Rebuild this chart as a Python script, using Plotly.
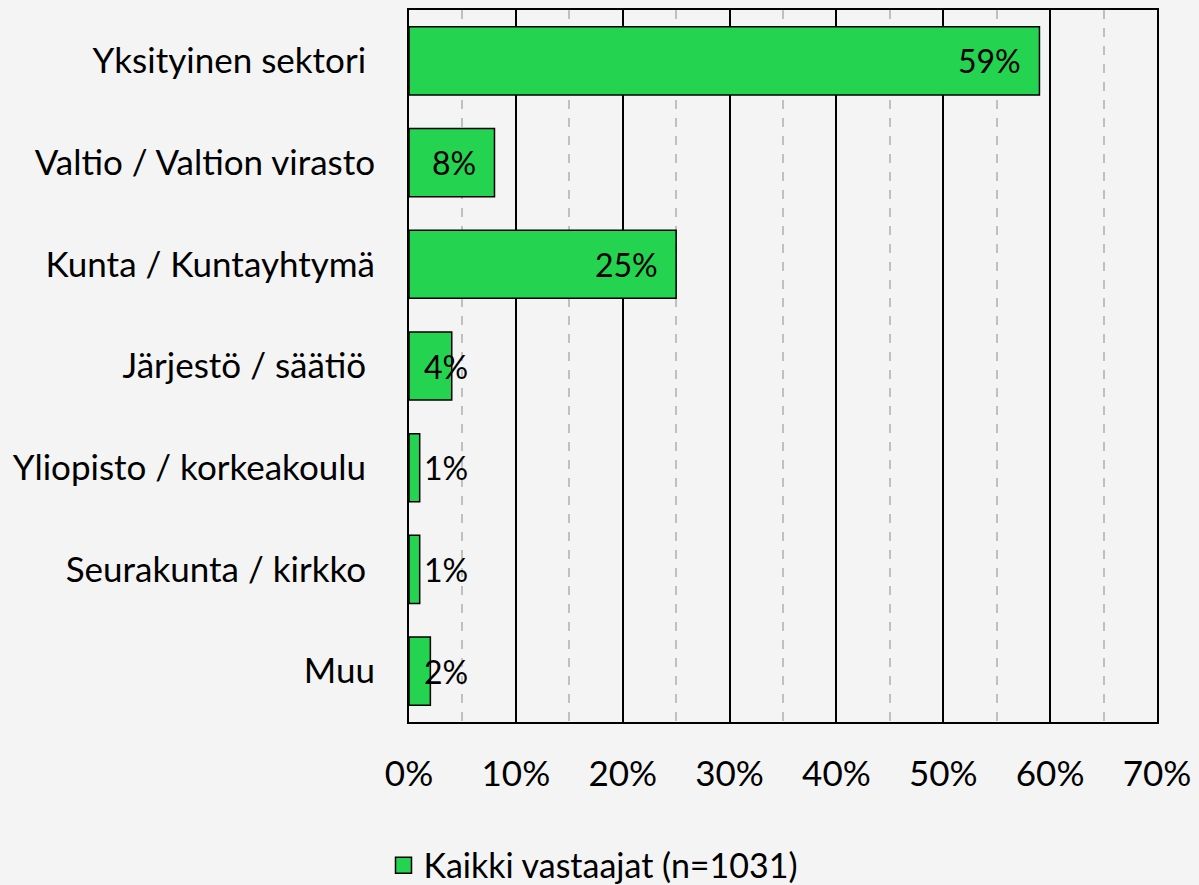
import plotly.graph_objects as go

categories = ["Yksityinen sektori\u00a0", "Valtio / Valtion virasto", "Kunta / Kuntayhtymä",
              "Järjestö / säätiö\u00a0", "Yliopisto / korkeakoulu\u00a0", "Seurakunta / kirkko\u00a0", "Muu"]
values = [59, 8, 25, 4, 1, 1, 2]
labels = ["59%", "8%", "25%", "4%", "1%", "1%", "2%"]
series_name = "Kaikki vastaajat (n=1031)"
x_ticks = [0, 10, 20, 30, 40, 50, 60, 70]
x_ticktext = ["0%", "10%", "20%", "30%", "40%", "50%", "60%", "70%"]

GREEN = "#24d34f"
FONT = "Lato"
FS = 35

fig = go.Figure()
fig.add_trace(go.Bar(
    y=categories, x=values, orientation="h",
    marker=dict(color=GREEN, line=dict(color="black", width=1.5)),
    showlegend=False, hoverinfo="skip",
))
fig.add_trace(go.Scatter(
    x=[None], y=[None], mode="markers", name=series_name,
    marker=dict(symbol="square", size=16, color=GREEN, line=dict(color="black", width=1.5)),
))

for cat, v, t in zip(categories, values, labels):
    fig.add_annotation(x=max(v - 1.5, 5.7), y=cat, text=t, showarrow=False,
                       xanchor="right", yanchor="middle",
                       font=dict(family=FONT, size=32, color="black"))

fig.update_layout(
    width=1199, height=885,
    paper_bgcolor="#f4f4f4", plot_bgcolor="#f4f4f4",
    margin=dict(l=409, r=41, t=8, b=163),
    font=dict(family=FONT, size=FS, color="black"),
    bargap=0.33,
    showlegend=True,
    legend=dict(orientation="h", xref="container", x=0.495, xanchor="center",
                yref="container", y=0.022, yanchor="middle",
                font=dict(family=FONT, size=34), bgcolor="rgba(0,0,0,0)"),
)
fig.update_xaxes(range=[0, 70], tickvals=x_ticks, ticktext=x_ticktext,
                 showgrid=True, gridcolor="black", gridwidth=1.5,
                 minor=dict(dtick=5, tick0=0, showgrid=True, gridcolor="#c0c0c0",
                            griddash="dash", gridwidth=1.5),
                 showline=True, linecolor="black", linewidth=2, mirror=True,
                 ticks="", ticklabelstandoff=20, zeroline=False, fixedrange=True)
fig.update_yaxes(autorange="reversed", showline=True, linecolor="black", linewidth=2,
                 mirror=True, ticks="", ticklabelstandoff=25, showgrid=False, fixedrange=True)

fig.write_html("out.html", config={"displayModeBar": False},
               post_script="document.body.style.margin='0';document.body.style.overflow='hidden';")
